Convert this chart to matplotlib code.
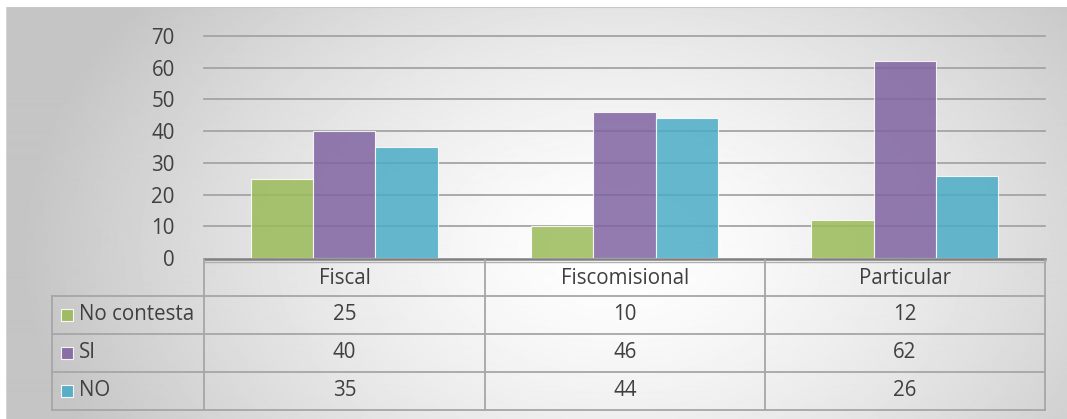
import numpy as np
import matplotlib.pyplot as plt
from matplotlib.patches import Rectangle
from matplotlib.lines import Line2D

categories = ['Fiscal', 'Fiscomisional', 'Particular']
series_names = ['No contesta', 'SI', 'NO']
no_contesta = [25, 10, 12]
si = [40, 46, 62]
no = [35, 44, 26]
yticks = [0, 10, 20, 30, 40, 50, 60, 70]

colors = ['#9BBB59', '#8064A2', '#4BACC6']
text_color = '#404040'
font = 'Open Sans'
fsize = 14.8

W, H = 1067, 419
fig = plt.figure(figsize=(W / 100, H / 100), dpi=100)
fig.patch.set_facecolor('white')

# radial grey-to-white backdrop of the chart area
bg = fig.add_axes([6 / W, 0, 1 - 6 / W, 1 - 7 / H])
bg.set_axis_off()
xx, yy = np.meshgrid(np.arange(6, W), np.arange(7, H))
d = np.sqrt(((xx - 620) / 600.0) ** 2 + ((yy - 250) / 420.0) ** 2)
shade = 1 - 0.23 * np.clip(d, 0, 1) ** 1.4
bg.imshow(shade, cmap='gray', vmin=0, vmax=1, aspect='auto',
          extent=[0, 1, 0, 1], origin='upper', interpolation='bilinear')
bg.set_xlim(0, 1)
bg.set_ylim(0, 1)
bg.plot([0, 1], [1, 1], color='#c8c8c8', lw=1.5)
bg.plot([0, 0], [0, 1], color='#d4d4d4', lw=1.5)

x0, x1 = 204, 1045
y_zero, y_top = 258, 36
ax = fig.add_axes([x0 / W, (H - y_zero) / H, (x1 - x0) / W,
                   (y_zero - y_top) / H])
ax.patch.set_alpha(0)
ax.set_xlim(0, 3)
ax.set_ylim(0, 70)
for s in ax.spines.values():
    s.set_visible(False)
ax.set_xticks([])
ax.set_yticks(yticks)
ax.tick_params(axis='y', length=0, pad=21, labelsize=fsize,
               labelcolor=text_color)
for lab in ax.get_yticklabels():
    lab.set_fontfamily(font)
for t in yticks[1:]:
    ax.axhline(t, color='#a4a4a4', lw=1.3, zorder=1, clip_on=False)

w = 1 / 4.5
centers = np.arange(len(categories)) + 0.5
for i, vals in enumerate([no_contesta, si, no]):
    ax.bar(centers + (i - 1) * w, vals, width=w, color=colors[i], alpha=0.85,
           edgecolor=(1, 1, 1, 0.6), linewidth=0.8, zorder=2)

# data table below the plot, drawn in pixel coordinates
def px(x, y):
    return x / W, 1 - y / H

def hline(xa, xb, y, color='#a6a6a6', lw=1.3):
    fig.add_artist(Line2D([xa / W, xb / W], [1 - y / H, 1 - y / H],
                          color=color, lw=lw))

def vline(x, ya, yb, color='#a6a6a6', lw=1.3):
    fig.add_artist(Line2D([x / W, x / W], [1 - ya / H, 1 - yb / H],
                          color=color, lw=lw))

cols = [52, 204, 485, 765, 1045]
rows = [260, 296, 334, 372, 410]

hline(x0, x1, 258.5, color='#7f7f7f', lw=1.8)
hline(x0, x1, 261.5, color='#b0b0b0', lw=1.0)
for y in rows[1:]:
    hline(cols[0], x1, y)
for x in cols[1:]:
    vline(x, rows[0], rows[-1])
vline(cols[0], rows[1], rows[-1])

for j, cat in enumerate(categories):
    cx = (cols[j + 1] + cols[j + 2]) / 2
    fig.text(*px(cx, (rows[0] + rows[1]) / 2 + 1), cat, ha='center',
             va='center', fontsize=fsize, color=text_color, family=font)

table_rows = [no_contesta, si, no]
for i, (name, vals) in enumerate(zip(series_names, table_rows)):
    cy = (rows[i + 1] + rows[i + 2]) / 2
    fig.add_artist(Rectangle(px(61, cy + 6), 12 / W, 12 / H,
                             facecolor=colors[i], alpha=0.9,
                             edgecolor='white', lw=0.8))
    fig.text(*px(79, cy), name, ha='left', va='center', fontsize=fsize,
             color=text_color, family=font)
    for j, v in enumerate(vals):
        cx = (cols[j + 1] + cols[j + 2]) / 2
        fig.text(*px(cx, cy), str(v), ha='center', va='center',
                 fontsize=fsize, color=text_color, family=font)

fig.savefig('out.png', dpi=100)
